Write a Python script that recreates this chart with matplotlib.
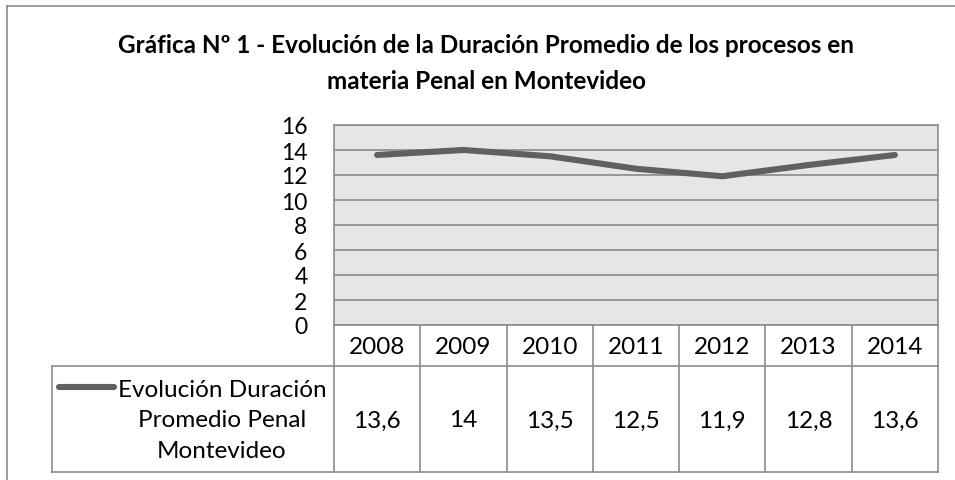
import matplotlib.pyplot as plt
import matplotlib.lines as mlines

years = ["2008", "2009", "2010", "2011", "2012", "2013", "2014"]
duracion = [13.6, 14, 13.5, 12.5, 11.9, 12.8, 13.6]
valores_txt = ["13,6", "14", "13,5", "12,5", "11,9", "12,8", "13,6"]
yticks = [0, 2, 4, 6, 8, 10, 12, 14, 16]
serie = "Evolución Duración\nPromedio Penal\nMontevideo"
titulo = "Gráfica Nº 1 - Evolución de la Duración Promedio de los procesos en\nmateria Penal en Montevideo"

plt.rcParams['font.family'] = ['Lato', 'DejaVu Sans']
W, H = 955, 481
fig = plt.figure(figsize=(W / 100, H / 100), dpi=100)

# pixel overlay for frame, title and table
bg = fig.add_axes([0, 0, 1, 1])
bg.set_xlim(0, W)
bg.set_ylim(H, 0)
bg.axis('off')

edge = '#8c8c8c'
bg.plot([7, 7], [7, H], color=edge, lw=1.2)
bg.plot([7, W], [7, 7], color=edge, lw=1.2)

bg.text(486, 63.5, titulo, ha='center', va='center', fontsize=17.5,
        fontweight='bold', linespacing=1.7)

# plot area (pixels)
px0, px1, py0, py1 = 334, 938, 126, 326
ax = fig.add_axes([px0 / W, 1 - py1 / H, (px1 - px0) / W, (py1 - py0) / H])
ax.set_facecolor('#e6e6e6')
x = list(range(len(years)))
ax.plot(x, duracion, color='#606060', lw=4.4, solid_capstyle='round',
        solid_joinstyle='round')
ax.set_xlim(-0.5, len(years) - 0.5)
ax.set_ylim(0, 16)
ax.set_yticks(yticks)
ax.set_yticklabels([str(v) for v in yticks], fontsize=16.5)
ax.tick_params(axis='y', length=0, pad=19)
ax.set_xticks([])
ax.grid(axis='y', color='#8a8a8a', lw=1.2)
ax.set_axisbelow(True)
for s in ax.spines.values():
    s.set_color(edge)
    s.set_linewidth(1.2)

# data table
colw = (px1 - px0) / len(years)
r0, r1, r2 = 326, 367, 473
tx0 = 52
kw = dict(color=edge, lw=1.2)
bg.plot([tx0, px1], [r1, r1], **kw)
bg.plot([tx0, px1], [r2, r2], **kw)
bg.plot([tx0, tx0], [r1, r2], **kw)
for i in range(len(years) + 1):
    xx = px0 + i * colw
    bg.plot([xx, xx], [r0, r2], **kw)
for i, (yr, v) in enumerate(zip(years, valores_txt)):
    cx = px0 + (i + 0.5) * colw
    bg.text(cx, (r0 + r1) / 2 + 1, yr, ha='center', va='center', fontsize=17.5)
    bg.text(cx, (r1 + r2) / 2 + 1, v, ha='center', va='center', fontsize=17.5)

bg.text(222, 421, serie, ha='center', va='center', fontsize=17.5, linespacing=1.55)
bg.add_line(mlines.Line2D([59, 114], [388, 388], color='#606060', lw=4.4,
                          solid_capstyle='round'))

fig.savefig('out.png', dpi=100)
